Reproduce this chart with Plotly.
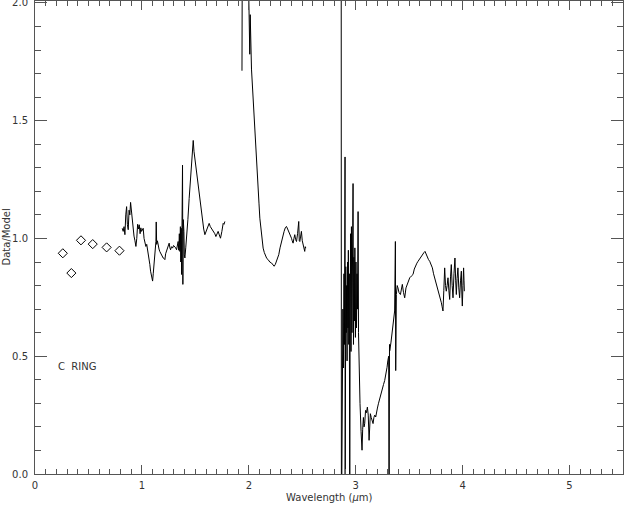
import plotly.graph_objects as go

# broadband points (diamonds)
phot_wl = [0.26, 0.34, 0.43, 0.54, 0.67, 0.79]
phot_ratio = [0.937, 0.853, 0.992, 0.976, 0.962, 0.948]

# segment 1: ~0.8 - 1.8 um
seg1_wl = [0.816, 0.825, 0.833, 0.841, 0.849, 0.857, 0.864, 0.872, 0.880, 0.887,
           0.894, 0.902, 0.910, 0.918, 0.926, 0.935, 0.944, 0.952, 0.960, 0.968,
           0.975, 0.983, 0.990, 0.997, 1.004, 1.012, 1.020, 1.028, 1.037, 1.045,
           1.052, 1.059, 1.066, 1.074, 1.081, 1.090, 1.100, 1.106, 1.112, 1.121,
           1.131, 1.134, 1.138, 1.145, 1.152, 1.160, 1.167, 1.174, 1.182, 1.190,
           1.199, 1.207, 1.215, 1.222, 1.230, 1.237, 1.246, 1.255, 1.262, 1.268,
           1.277, 1.287, 1.296, 1.308, 1.316, 1.324, 1.331, 1.339, 1.345, 1.350,
           1.355, 1.360, 1.364, 1.368, 1.371, 1.375, 1.380, 1.383, 1.387, 1.393,
           1.397, 1.402, 1.410, 1.418, 1.430, 1.442, 1.453, 1.464, 1.472, 1.480,
           1.487, 1.495, 1.503, 1.511, 1.518, 1.526, 1.534, 1.542, 1.555, 1.567,
           1.578, 1.589, 1.597, 1.604, 1.616, 1.629, 1.640, 1.651, 1.662, 1.673,
           1.682, 1.692, 1.703, 1.713, 1.724, 1.735, 1.748, 1.760, 1.768, 1.776]
seg1_ratio = [1.043, 1.030, 1.050, 1.016, 1.100, 1.135, 1.060, 1.037, 1.120, 1.100,
              1.153, 1.110, 1.060, 1.030, 1.010, 0.990, 0.966, 1.000, 1.060, 1.040,
              1.058, 1.020, 1.045, 1.030, 1.040, 1.043, 1.000, 0.980, 0.966, 0.975,
              0.955, 0.952, 0.920, 0.890, 0.861, 0.830, 0.819, 0.850, 0.889, 0.940,
              0.987, 1.070, 0.975, 0.990, 0.966, 0.955, 0.945, 0.938, 0.930, 0.925,
              0.917, 0.915, 0.910, 0.935, 0.945, 0.952, 0.970, 0.980, 0.960, 0.952,
              0.965, 0.959, 0.970, 0.966, 0.960, 0.952, 0.970, 0.987, 0.950, 1.020,
              0.945, 1.050, 0.900, 1.043, 0.847, 1.060, 1.311, 0.805, 1.080, 1.030,
              0.930, 0.917, 0.960, 1.001, 1.080, 1.170, 1.240, 1.311, 1.370, 1.416,
              1.370, 1.339, 1.310, 1.297, 1.270, 1.240, 1.210, 1.184, 1.130, 1.072,
              1.040, 1.016, 1.025, 1.030, 1.050, 1.064, 1.050, 1.043, 1.035, 1.030,
              1.020, 1.008, 1.020, 1.030, 1.015, 1.001, 1.030, 1.064, 1.060, 1.072]

# segment 2: ~1.9 - 2.55 um
seg2_wl = [1.936, 1.940, 1.990, 1.994, 2.000, 2.009, 2.013, 2.025, 2.037, 2.050,
           2.061, 2.072, 2.080, 2.087, 2.095, 2.103, 2.110, 2.118, 2.126, 2.134,
           2.145, 2.156, 2.168, 2.181, 2.196, 2.212, 2.225, 2.237, 2.248, 2.259,
           2.270, 2.280, 2.292, 2.305, 2.318, 2.330, 2.341, 2.352, 2.363, 2.374,
           2.386, 2.399, 2.406, 2.414, 2.422, 2.430, 2.438, 2.446, 2.456, 2.467,
           2.472, 2.477, 2.485, 2.492, 2.500, 2.508, 2.515, 2.523, 2.528, 2.533]
seg2_ratio = [1.712, 2.400, 2.400, 2.050, 2.020, 1.782, 1.950, 1.719, 1.630, 1.536,
              1.450, 1.367, 1.290, 1.212, 1.150, 1.086, 1.050, 1.016, 0.985, 0.959,
              0.940, 0.924, 0.915, 0.910, 0.900, 0.896, 0.890, 0.882, 0.890, 0.903,
              0.915, 0.931, 0.960, 0.987, 1.010, 1.030, 1.045, 1.051, 1.040, 1.030,
              1.015, 1.001, 0.990, 0.980, 1.000, 1.016, 0.995, 0.987, 1.020, 1.072,
              0.990, 0.987, 1.010, 1.030, 0.990, 0.973, 0.960, 0.945, 0.965, 0.959]

# segment 3: ~2.85 - 4.02 um
seg3_wl = [2.864, 2.866, 2.880, 2.885, 2.890, 2.895, 2.900, 2.901, 2.903, 2.907,
           2.911, 2.915, 2.919, 2.923, 2.927, 2.931, 2.935, 2.940, 2.944, 2.948,
           2.952, 2.956, 2.960, 2.965, 2.970, 2.975, 2.979, 2.983, 2.988, 2.992,
           2.997, 3.002, 3.007, 3.012, 3.017, 3.022, 3.026, 3.030, 3.040, 3.050,
           3.059, 3.065, 3.072, 3.078, 3.084, 3.092, 3.100, 3.109, 3.117, 3.125,
           3.131, 3.137, 3.145, 3.153, 3.162, 3.170, 3.178, 3.187, 3.195, 3.203,
           3.212, 3.220, 3.230, 3.240, 3.250, 3.260, 3.271, 3.282, 3.293, 3.300,
           3.308, 3.312, 3.316, 3.318, 3.330, 3.343, 3.355, 3.364, 3.371, 3.374,
           3.380, 3.388, 3.395, 3.405, 3.418, 3.427, 3.436, 3.447, 3.458, 3.470,
           3.480, 3.492, 3.505, 3.520, 3.536, 3.548, 3.561, 3.572, 3.583, 3.593,
           3.604, 3.616, 3.629, 3.638, 3.648, 3.659, 3.670, 3.681, 3.692, 3.705,
           3.717, 3.728, 3.738, 3.750, 3.760, 3.772, 3.785, 3.793, 3.801, 3.808,
           3.816, 3.824, 3.832, 3.840, 3.847, 3.855, 3.863, 3.871, 3.879, 3.887,
           3.894, 3.902, 3.910, 3.919, 3.928, 3.935, 3.941, 3.948, 3.956, 3.964,
           3.972, 3.980, 3.988, 3.993, 3.997, 4.003, 4.009, 4.013, 4.016]
seg3_ratio = [2.500, -0.300, 0.700, 0.450, 0.850, 0.550, 1.346, -0.200, 0.500, 0.880,
              0.600, 0.800, 0.480, 0.900, 0.620, 0.950, 0.550, 0.850, -0.200, 0.700,
              1.020, 0.520, 1.050, 0.600, 0.980, 1.233, 0.550, 0.920, 0.650, 0.960,
              0.580, 0.900, 0.620, 0.850, 0.700, 1.114, 0.600, 0.500, 0.300, 0.180,
              0.101, 0.190, 0.240, 0.200, 0.214, 0.270, 0.260, 0.284, 0.250, 0.143,
              0.240, 0.256, 0.240, 0.230, 0.214, 0.240, 0.250, 0.242, 0.270, 0.280,
              0.298, 0.310, 0.330, 0.340, 0.360, 0.380, 0.397, 0.420, 0.453, 0.480,
              0.500, -0.200, 0.550, 0.523, 0.560, 0.608, 0.660, 0.692, 0.987, 0.439,
              0.762, 0.800, 0.790, 0.770, 0.762, 0.790, 0.805, 0.770, 0.748, 0.790,
              0.805, 0.820, 0.833, 0.840, 0.847, 0.870, 0.889, 0.895, 0.903, 0.910,
              0.917, 0.930, 0.938, 0.940, 0.945, 0.930, 0.917, 0.910, 0.903, 0.890,
              0.875, 0.850, 0.833, 0.820, 0.805, 0.780, 0.762, 0.745, 0.727, 0.710,
              0.692, 0.780, 0.875, 0.800, 0.776, 0.800, 0.833, 0.780, 0.741, 0.840,
              0.889, 0.800, 0.748, 0.850, 0.917, 0.820, 0.762, 0.830, 0.875, 0.790,
              0.748, 0.820, 0.861, 0.760, 0.713, 0.800, 0.875, 0.820, 0.776]

AXIS = "#555555"
TEXT = "#333333"
FONT = "DejaVu Sans"

fig = go.Figure()
for wl, ratio in [(seg1_wl, seg1_ratio), (seg2_wl, seg2_ratio), (seg3_wl, seg3_ratio)]:
    fig.add_trace(go.Scatter(x=wl, y=ratio, mode="lines",
                             line=dict(color="black", width=1)))
# diamonds go on the overlay axes (which carry the minor ticks)
fig.add_trace(go.Scatter(x=phot_wl, y=phot_ratio, mode="markers",
                         xaxis="x2", yaxis="y2",
                         marker=dict(symbol="diamond-open", size=7,
                                     color="black", line=dict(width=1))))

fig.add_annotation(x=0.2, y=0.457, text="C  RING", showarrow=False,
                   xanchor="left", yanchor="middle",
                   font=dict(family=FONT, size=10, color=TEXT))
fig.add_annotation(x=0.5, y=0, xref="paper", yref="paper", yshift=-23,
                   xanchor="center", yanchor="middle",
                   text="Wavelength (<i>\u03bc</i>m)", showarrow=False,
                   font=dict(family=FONT, size=10, color=TEXT))
fig.add_annotation(x=0, y=0.5, xref="paper", yref="paper", xshift=-29,
                   xanchor="center", yanchor="middle",
                   text="Data/Model", textangle=-90, showarrow=False,
                   font=dict(family=FONT, size=10, color=TEXT))

x_range = [0, 5.5]
y_range = [0, 2.008]

fig.update_layout(
    width=624, height=505,
    margin=dict(l=35, r=1, t=1, b=31),
    plot_bgcolor="white", paper_bgcolor="white",
    showlegend=False,
    font=dict(family=FONT, size=10, color=TEXT),
    xaxis=dict(range=x_range, tickmode="linear", dtick=1, tick0=0,
               showgrid=False, zeroline=False, automargin=False,
               showline=True, linecolor=AXIS, linewidth=1, mirror="ticks",
               ticks="inside", ticklen=9, tickcolor=AXIS,
               tickformat="d", ticklabelstandoff=2),
    yaxis=dict(range=y_range, tickmode="linear", dtick=0.5, tick0=0,
               showgrid=False, zeroline=False, automargin=False,
               showline=True, linecolor=AXIS, linewidth=1, mirror="ticks",
               ticks="inside", ticklen=12, tickcolor=AXIS,
               tickformat=".1f", ticklabelstandoff=4, ticklabeloverflow="allow"),
    xaxis2=dict(overlaying="x", range=x_range, tickmode="linear", dtick=0.1, tick0=0,
                showgrid=False, zeroline=False, automargin=False, showline=False,
                mirror="ticks", ticks="inside", ticklen=5, tickcolor=AXIS,
                showticklabels=False),
    yaxis2=dict(overlaying="y", range=y_range, tickmode="linear", dtick=0.1, tick0=0,
                showgrid=False, zeroline=False, automargin=False, showline=False,
                mirror="ticks", ticks="inside", ticklen=6, tickcolor=AXIS,
                showticklabels=False),
)

fig.write_html("out.html", config={"displayModeBar": False},
               post_script="document.body.style.margin='0';"
                           "document.body.style.overflow='hidden';")
